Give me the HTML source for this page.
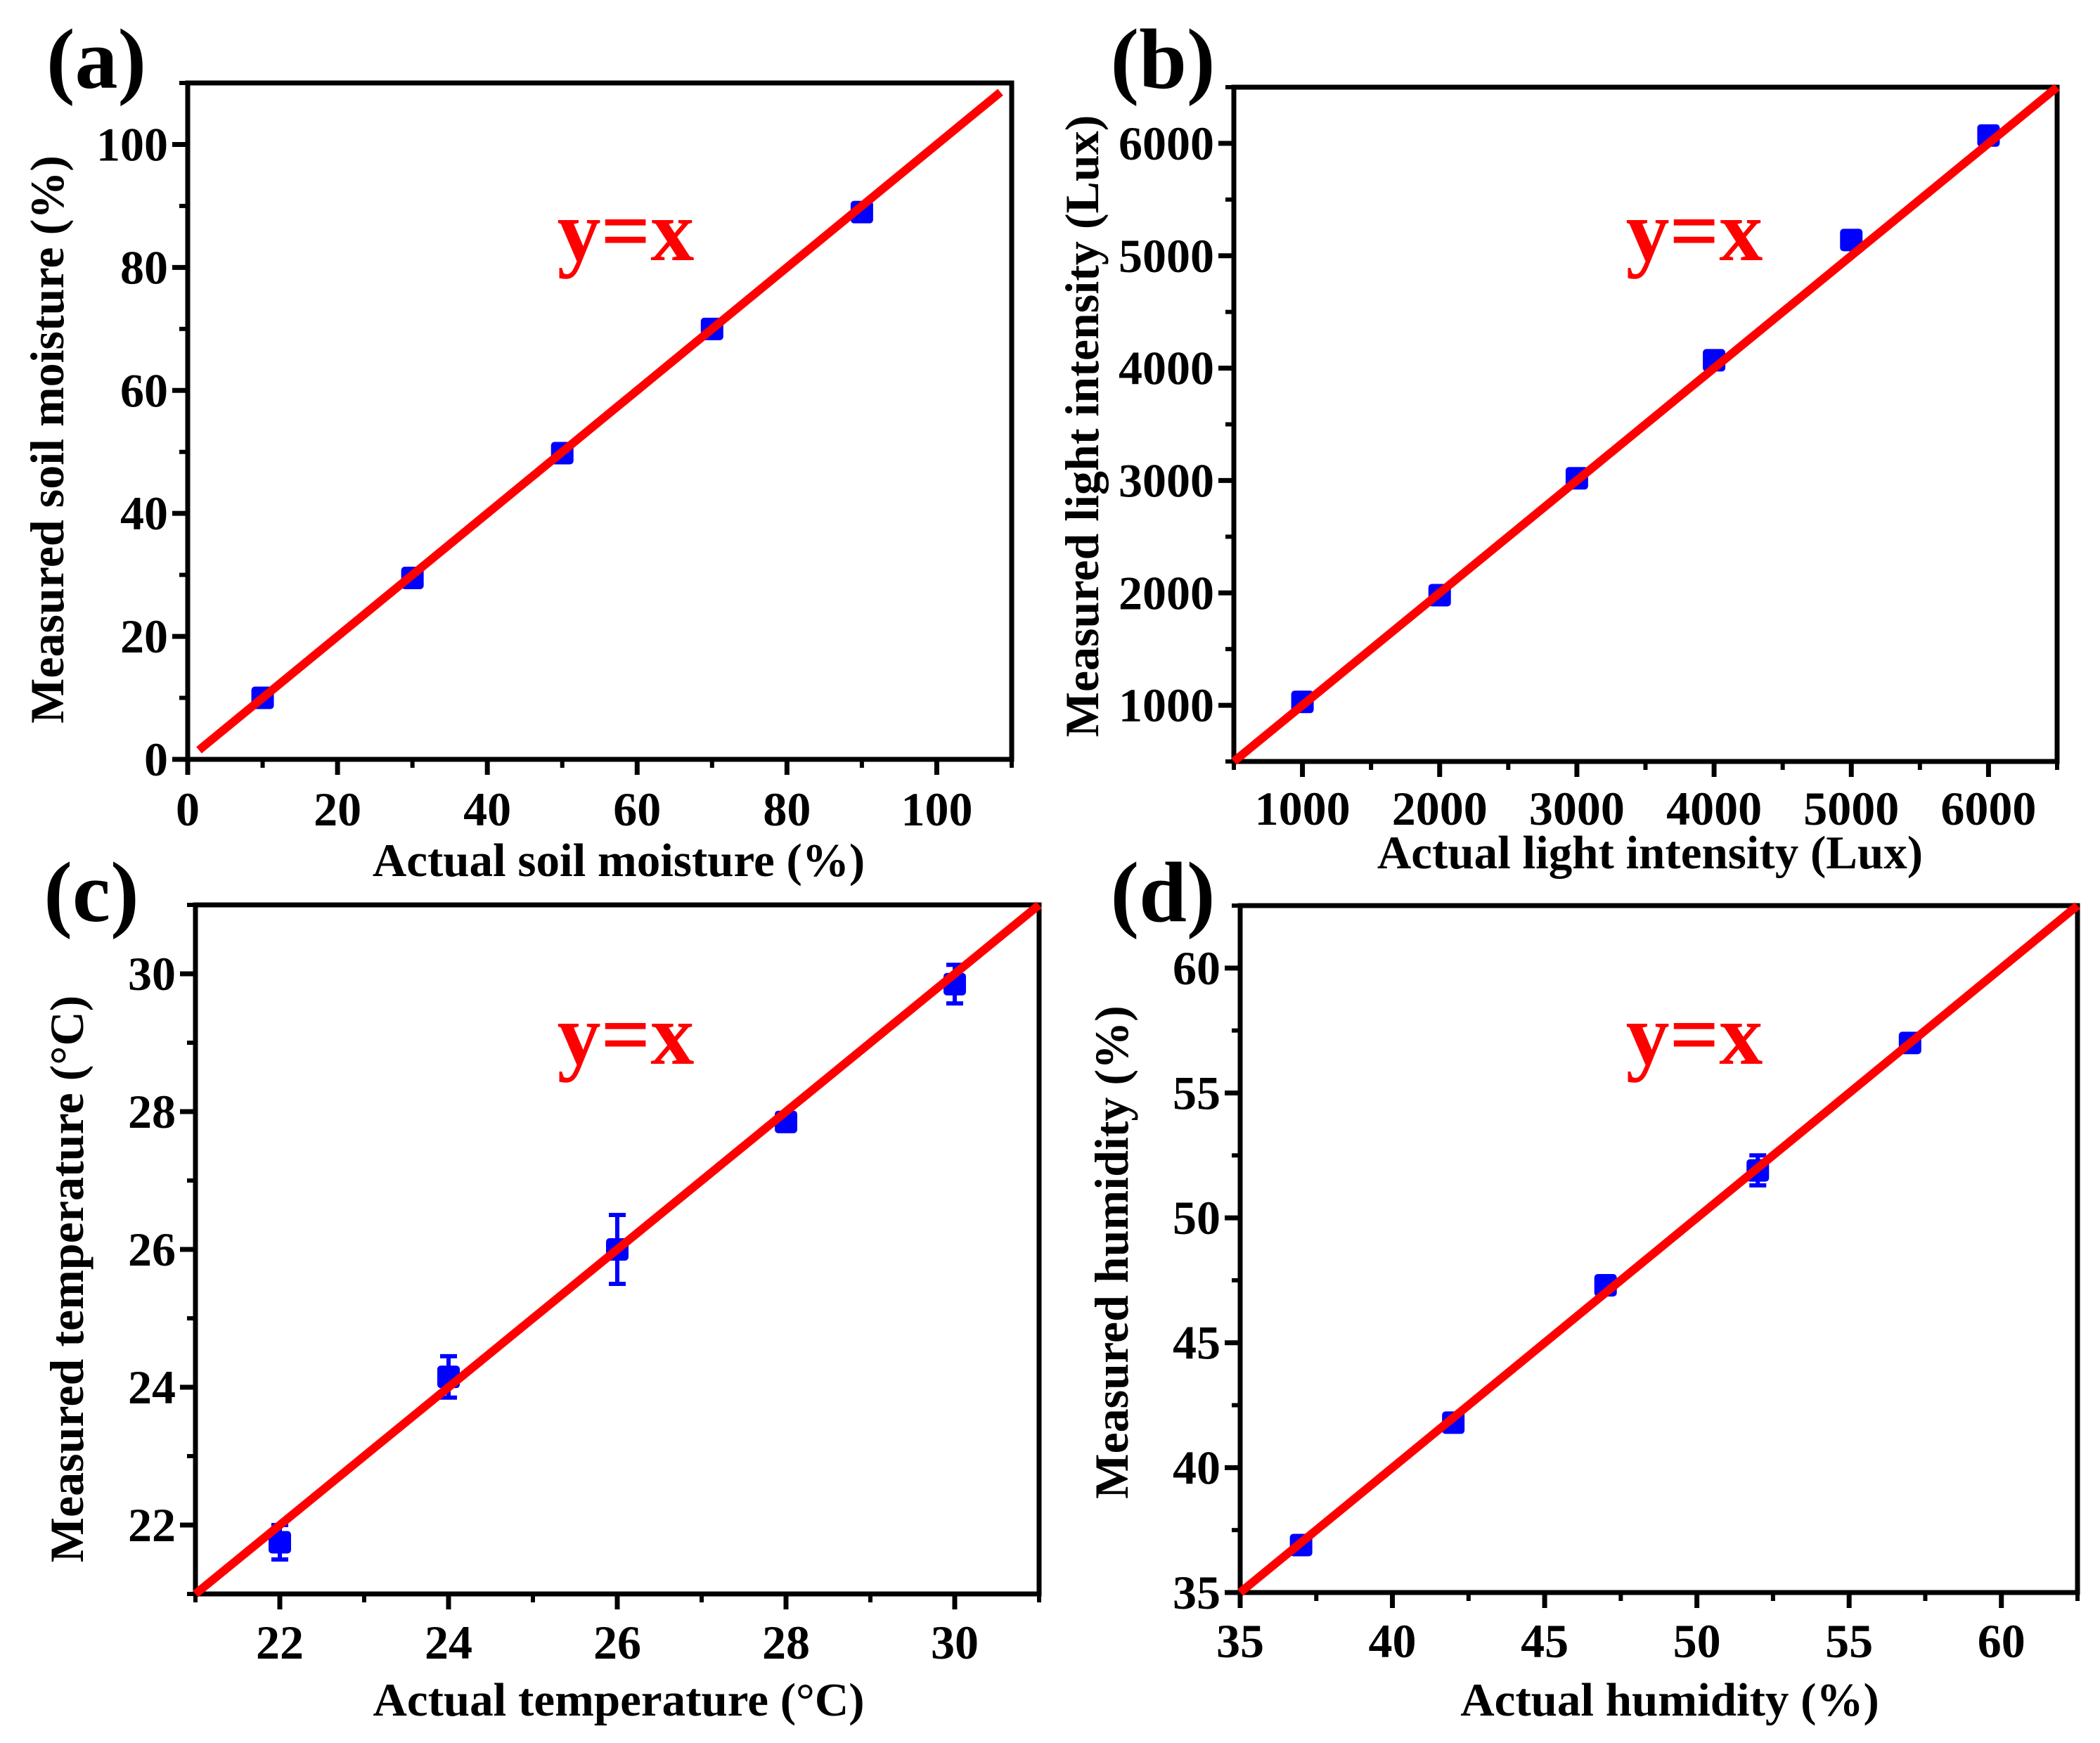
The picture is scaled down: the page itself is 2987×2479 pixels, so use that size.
<!DOCTYPE html>
<html><head><meta charset="utf-8"><style>
html,body{margin:0;padding:0;background:#fff;}
svg{display:block;font-family:"Liberation Serif",serif;font-weight:bold;}
</style></head><body>
<svg id="fig" width="2987" height="2479" viewBox="0 0 2987 2479" xmlns="http://www.w3.org/2000/svg">
<rect width="2987" height="2479" fill="#fff"/>
</svg>
<script>
// Panel (a) soil moisture
const aActual = [10, 30, 50, 70, 90];
const aMeasured = [10, 29.5, 49.8, 70, 89];
const aErr = [0.8, 0.8, 0.8, 0.8, 0.8];
const aTicks = [0, 20, 40, 60, 80, 100];
// Panel (b) light intensity
const bActual = [1000, 2000, 3000, 4000, 5000, 6000];
const bMeasured = [1030, 1980, 3020, 4070, 5140, 6070];
const bErr = [40, 40, 40, 40, 40, 40];
const bTicks = [1000, 2000, 3000, 4000, 5000, 6000];
// Panel (c) temperature
const cActual = [22, 24, 26, 28, 30];
const cMeasured = [21.75, 24.15, 26.0, 27.85, 29.85];
const cErr = [0.25, 0.3, 0.5, 0.1, 0.28];
const cTicks = [22, 24, 26, 28, 30];
// Panel (d) humidity
const dActual = [37, 42, 47, 52, 57];
const dMeasured = [36.9, 41.8, 47.3, 51.9, 57.0];
const dErr = [0.2, 0.2, 0.2, 0.6, 0.3];
const dTicks = [35, 40, 45, 50, 55, 60];

const NS = "http://www.w3.org/2000/svg";
const svg = document.getElementById('fig');
function mk(tag, attrs, parent, txt){
  const e = document.createElementNS(NS, tag);
  for (const k in attrs) e.setAttribute(k, attrs[k]);
  if (txt !== undefined) e.textContent = txt;
  (parent || svg).appendChild(e);
  return e;
}

const panels = [
  {id:'a', L:267, R:1439, T:118, B:1080, min:0, max:110, minor:10, xs:aActual, ys:aMeasured, es:aErr, ticks:aTicks, lineFrom:1.5, lineTo:108.5, xlOff:94,
   xt:'Actual soil moisture (%)', yt:'Measured soil moisture (%)', xtPos:[880,1246], ytPos:[67,625], lab:[137,125], yx:[890,370]},
  {id:'b', L:1755, R:2926, T:124, B:1083, min:500, max:6500, minor:500, xs:bActual, ys:bMeasured, es:bErr, ticks:bTicks, lineFrom:500, lineTo:6500, xlOff:90,
   xt:'Actual light intensity (Lux)', yt:'Measured light intensity (Lux)', xtPos:[2347,1235], ytPos:[1539,606], lab:[1654,125], yx:[2410,370]},
  {id:'c', L:278, R:1478, T:1287, B:2267, min:21, max:31, minor:1, xs:cActual, ys:cMeasured, es:cErr, ticks:cTicks, lineFrom:21, lineTo:31, xlOff:92,
   xt:'Actual temperature (\u00B0C)', yt:'Measured temperature (\u00B0C)', xtPos:[880,2440], ytPos:[95,1819], lab:[130,1310], yx:[890,1513]},
  {id:'d', L:1764, R:2955, T:1288, B:2265, min:35, max:62.5, minor:2.5, xs:dActual, ys:dMeasured, es:dErr, ticks:dTicks, lineFrom:35, lineTo:62.5, xlOff:92,
   xt:'Actual humidity (%)', yt:'Measured humidity  (%)', xtPos:[2375,2440], ytPos:[1581,1781], lab:[1654,1310], yx:[2410,1513]}
];

panels.forEach(p => {
  const g = mk('g', {});
  
  
  const sx = v => p.L + (v - p.min) / (p.max - p.min) * (p.R - p.L);
  const sy = v => p.B - (v - p.min) / (p.max - p.min) * (p.B - p.T);

  const nMinor = Math.round((p.max - p.min) / p.minor);
  for (let i = 0; i <= nMinor; i++) {
    const v = p.min + i * p.minor;
    const mx = sx(v), my = sy(v);
    const t1 = mk('line', {x1:mx, y1:p.B, x2:mx, y2:p.B+12, stroke:'#000', 'stroke-width':6}, g);
    
    
    const t2 = mk('line', {x1:p.L, y1:my, x2:p.L-12, y2:my, stroke:'#000', 'stroke-width':6}, g);
    
    
  }
  p.ticks.forEach(v => {
    const mx = sx(v), my = sy(v);
    const t1 = mk('line', {x1:mx, y1:p.B, x2:mx, y2:p.B+22, stroke:'#000', 'stroke-width':7}, g);
    
    
    const t2 = mk('line', {x1:p.L, y1:my, x2:p.L-22, y2:my, stroke:'#000', 'stroke-width':7}, g);
    
    
    const l1 = mk('text', {x:mx, y:p.B+p.xlOff, 'font-size':68, 'text-anchor':'middle'}, g, String(v));
    
    
    const l2 = mk('text', {x:p.L-28, y:my+23, 'font-size':68, 'text-anchor':'end'}, g, String(v));
    
    
  });
  const fr = mk('rect', {x:p.L, y:p.T, width:p.R-p.L, height:p.B-p.T, fill:'none', stroke:'#000', 'stroke-width':7}, g);
  
  

  p.xs.forEach((xv, i) => {
    const cx = sx(xv), cy = sy(p.ys[i]);
    const yTop = sy(p.ys[i] + p.es[i]), yBot = sy(p.ys[i] - p.es[i]);
    const eb = mk('path', {d:`M${cx},${yTop}V${yBot}M${cx-12},${yTop}H${cx+12}M${cx-12},${yBot}H${cx+12}`, stroke:'#0000ff', 'stroke-width':6, fill:'none'}, g);
    
    
    const m = mk('rect', {x:cx-16, y:cy-16, width:32, height:32, rx:5, fill:'#0000ff'}, g);
    
    
  });

  const ln = mk('line', {x1:sx(p.lineFrom), y1:sy(p.lineFrom), x2:sx(p.lineTo), y2:sy(p.lineTo), stroke:'#ff0000', 'stroke-width':12}, g);
  
  

  const yxT = mk('text', {x:p.yx[0], y:p.yx[1], 'font-size':124, 'text-anchor':'middle', fill:'#ff0000'}, g, 'y=x');
  
  
  const xt = mk('text', {x:p.xtPos[0], y:p.xtPos[1], 'font-size':67, 'text-anchor':'middle'}, g, p.xt);
  
  
  const yt = mk('text', {x:0, y:0, 'font-size':68, 'text-anchor':'middle', transform:`translate(${p.ytPos[0]+23},${p.ytPos[1]}) rotate(-90)`}, g, p.yt);
  
  
  const lb = mk('text', {x:p.lab[0], y:p.lab[1], 'font-size':122, 'text-anchor':'middle'}, g, '(' + p.id + ')');
  
  
});
</script>
</body></html>
